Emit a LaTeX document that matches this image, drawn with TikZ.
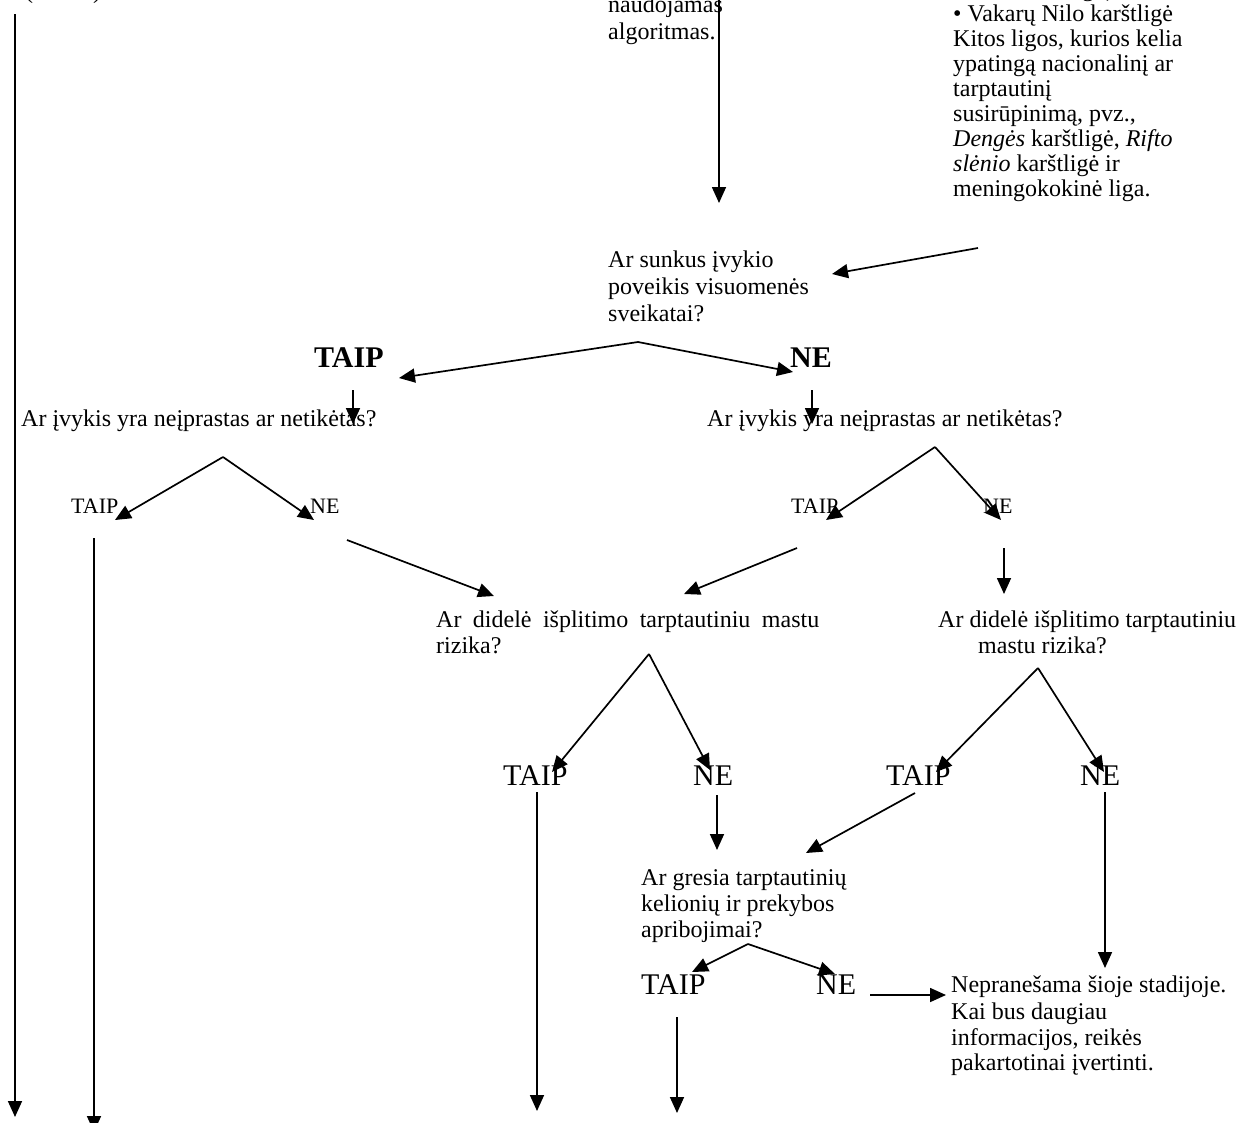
\documentclass[tikz,border=0pt]{standalone}
\usepackage{fontspec}
\setmainfont{Liberation Serif}
\usetikzlibrary{arrows.meta}
\begin{document}
\begin{tikzpicture}[x=1pt,y=-1pt,
  t/.style={font=\fontsize{24}{26}\selectfont, inner sep=0pt, anchor=base west},
  big/.style={font=\fontsize{30}{32}\selectfont, inner sep=0pt, anchor=base west},
  bigb/.style={font=\fontsize{30}{32}\selectfont\bfseries, inner sep=0pt, anchor=base west},
  small/.style={font=\fontsize{22}{24}\selectfont, inner sep=0pt, anchor=base west},
  arr/.style={line width=1.7pt, -{Triangle[length=16pt,width=14pt]}},
  ln/.style={line width=1.7pt}]
\useasboundingbox (0,0) rectangle (1245,1122);
\fill[white] (0,0) rectangle (1245,1122);

% ---- texts ----
\node[t] (top0) at (25,-2) {(SARS)};
\node[t] (alg1) at (608,12) {naudojamas};
\node[t] (alg2) at (608,39) {algoritmas.};
\node[t] (r0) at (953,-4) {Lasa, Marburgo),};
\node[t] (r1) at (953,21) {• Vakarų Nilo karštligė};
\node[t] (r2) at (953,46) {Kitos ligos, kurios kelia};
\node[t] (r3) at (953,71) {ypatingą nacionalinį ar};
\node[t] (r4) at (953,96) {tarptautinį};
\node[t] (r5) at (953,121) {susirūpinimą, pvz.,};
\node[t] (r6) at (953,146) {\textit{Dengės} karštligė, \textit{Rifto}};
\node[t] (r7) at (953,171) {\textit{slėnio} karštligė ir};
\node[t] (r8) at (953,196) {meningokokinė liga.};

\node[t] (s1) at (608,267) {Ar sunkus įvykio};
\node[t] (s2) at (608,294) {poveikis visuomenės};
\node[t] (s3) at (608,321) {sveikatai?};

\node[bigb] (ta1) at (314,367) {TAIP};
\node[bigb] (ne1) at (790,367) {NE};

\node[t] (qL) at (21,426) {Ar įvykis yra neįprastas ar netikėtas?};
\node[t] (qR) at (707,426) {Ar įvykis yra neįprastas ar netikėtas?};

\node[small] (ta2) at (71,513) {TAIP};
\node[small] (ne2) at (310,513) {NE};
\node[small] (ta3) at (791,513) {TAIP};
\node[small] (ne3) at (983,513) {NE};

\node[t] (dL1) at (436,627) {\makebox[383pt][s]{Ar didelė išplitimo tarptautiniu mastu}};
\node[t] (dL2) at (436,653) {rizika?};
\node[t] (dR1) at (938,627) {Ar didelė išplitimo tarptautiniu};
\node[t] (dR2) at (978,653) {mastu rizika?};

\node[big] (ta4) at (503,785) {TAIP};
\node[big] (ne4) at (693,785) {NE};
\node[big] (ta5) at (886,785) {TAIP};
\node[big] (ne5) at (1080,785) {NE};

\node[t] (g1) at (641,885) {Ar gresia tarptautinių};
\node[t] (g2) at (641,911) {kelionių ir prekybos};
\node[t] (g3) at (641,937) {apribojimai?};

\node[big] (ta6) at (641,994) {TAIP};
\node[big] (ne6) at (816,994) {NE};

\node[t] (n1) at (951,992) {Nepranešama šioje stadijoje.};
\node[t] (n2) at (951,1019) {Kai bus daugiau};
\node[t] (n3) at (951,1045) {informacijos, reikės};
\node[t] (n4) at (951,1070) {pakartotinai įvertinti.};

% ---- connector points ----
\coordinate (l0a) at (15,14);   \coordinate (l0b) at (15,1117);
\coordinate (l1a) at (719,-4);  \coordinate (l1b) at (719,203);
\coordinate (l2a) at (978,248); \coordinate (l2b) at (832,274);
\coordinate (ap1) at (638,342); \coordinate (ap1L) at (399,378); \coordinate (ap1R) at (793,372);
\coordinate (d1a) at (353,390); \coordinate (d1b) at (353,424);
\coordinate (d2a) at (812,390); \coordinate (d2b) at (812,424);
\coordinate (ap2) at (223,457); \coordinate (ap2L) at (115,520); \coordinate (ap2R) at (314,520);
\coordinate (t2a) at (94,538);  \coordinate (t2b) at (94,1132);
\coordinate (n2a) at (347,540); \coordinate (n2b) at (494,596);
\coordinate (ap3) at (935,447); \coordinate (ap3L) at (826,520); \coordinate (ap3R) at (1001,520);
\coordinate (t3a) at (797,548); \coordinate (t3b) at (684,594);
\coordinate (n3a) at (1004,548); \coordinate (n3b) at (1004,594);
\coordinate (ap4) at (649,654); \coordinate (ap4L) at (552,772); \coordinate (ap4R) at (710,770);
\coordinate (t4a) at (537,792); \coordinate (t4b) at (537,1111);
\coordinate (n4a) at (717,795); \coordinate (n4b) at (717,850);
\coordinate (ap5) at (1038,668); \coordinate (ap5L) at (936,772); \coordinate (ap5R) at (1104,772);
\coordinate (t5a) at (915,793); \coordinate (t5b) at (806,853);
\coordinate (n5a) at (1105,792); \coordinate (n5b) at (1105,968);
\coordinate (ap6) at (748,944); \coordinate (ap6L) at (692,972); \coordinate (ap6R) at (835,974);
\coordinate (n6a) at (870,995); \coordinate (n6b) at (946,995);
\coordinate (t6a) at (677,1017); \coordinate (t6b) at (677,1113);

% ---- connectors ----
\draw[arr] (l0a) -- (l0b);
\draw[arr] (l1a) -- (l1b);
\draw[arr] (l2a) -- (l2b);
\draw[arr] (ap1) -- (ap1L);
\draw[arr] (ap1) -- (ap1R);
\draw[arr] (d1a) -- (d1b);
\draw[arr] (d2a) -- (d2b);
\draw[arr] (ap2) -- (ap2L);
\draw[arr] (ap2) -- (ap2R);
\draw[arr] (t2a) -- (t2b);
\draw[arr] (n2a) -- (n2b);
\draw[arr] (ap3) -- (ap3L);
\draw[arr] (ap3) -- (ap3R);
\draw[arr] (t3a) -- (t3b);
\draw[arr] (n3a) -- (n3b);
\draw[arr] (ap4) -- (ap4L);
\draw[arr] (ap4) -- (ap4R);
\draw[arr] (t4a) -- (t4b);
\draw[arr] (n4a) -- (n4b);
\draw[arr] (ap5) -- (ap5L);
\draw[arr] (ap5) -- (ap5R);
\draw[arr] (t5a) -- (t5b);
\draw[arr] (n5a) -- (n5b);
\draw[arr] (ap6) -- (ap6L);
\draw[arr] (ap6) -- (ap6R);
\draw[arr] (n6a) -- (n6b);
\draw[arr] (t6a) -- (t6b);
\end{tikzpicture}
\end{document}
